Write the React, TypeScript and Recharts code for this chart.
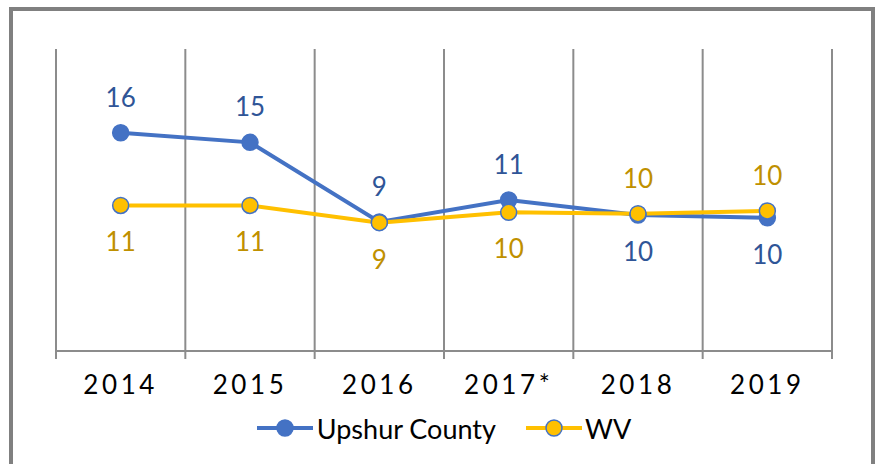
import React from 'react';
import { LineChart, Line, XAxis, YAxis, CartesianGrid, Legend, LabelList } from 'recharts';

const years = ['2014', '2015', '2016', '2017*', '2018', '2019'];
const upshur = [15.9, 15.2, 9.4, 11.0, 9.9, 9.7];
const wv = [10.6, 10.6, 9.35, 10.1, 10.0, 10.2];
const seriesNames = ['Upshur County', 'WV'];

const BLUE = '#4472C4';
const GOLD = '#FFC000';
const GRID = '#8C8C8C';
const FONT = 'Lato, "Noto Sans", sans-serif';
const WEIGHT = 400;

const data = years.map((year, i) => ({ year, x: i + 0.5, upshur: upshur[i], wv: wv[i] }));
const boundaryTicks = [...years.map((_, i) => i), years.length];

const makeLabel = (own: number[], other: number[], color: string) => (props: any) => {
  const vb = props.viewBox || {};
  const x = props.x ?? vb.x;
  const y = props.y ?? vb.y;
  const index = props.index;
  const value = props.value;
  if (x == null || y == null) return null;
  const above = own[index] > other[index];
  return (
    <text
      x={x}
      y={above ? y - 36 : y + 36}
      textAnchor="middle"
      dominantBaseline="central"
      fill={color}
      fontSize={26}
      fontWeight={WEIGHT}
      fontFamily={FONT}
    >
      {Math.round(Number(value))}
    </text>
  );
};

const LegendIcon = ({ fill, line }: { fill: string; line: string }) => (
  <svg width={56} height={20} style={{ display: 'block' }}>
    <line x1={0} y1={10} x2={56} y2={10} stroke={line} strokeWidth={4} />
    <circle cx={28} cy={10} r={8} fill={fill} stroke={BLUE} strokeWidth={1.5} />
  </svg>
);

const LegendContent = () => (
  <div
    style={{
      display: 'flex',
      justifyContent: 'center',
      alignItems: 'center',
      height: 38,
      fontFamily: FONT,
      fontSize: 27,
      fontWeight: WEIGHT,
      color: '#000',
    }}
  >
    <div style={{ display: 'flex', alignItems: 'center', marginRight: 30 }}>
      <LegendIcon fill={BLUE} line={BLUE} />
      <span style={{ marginLeft: 4 }}>{seriesNames[0]}</span>
    </div>
    <div style={{ display: 'flex', alignItems: 'center' }}>
      <LegendIcon fill={GOLD} line={GOLD} />
      <span style={{ marginLeft: 3 }}>{seriesNames[1]}</span>
    </div>
  </div>
);

export default function App() {
  return (
    <div
      style={{
        position: 'absolute',
        left: 0,
        top: 0,
        width: 877,
        height: 464,
        overflow: 'hidden',
        background: '#fff',
        fontFamily: FONT,
      }}
    >
      <div
        style={{
          position: 'absolute',
          left: 9,
          top: 7,
          width: 866,
          height: 480,
          border: '4px solid #808080',
          boxSizing: 'border-box',
        }}
      />
      <div style={{ position: 'absolute', left: 0, top: 0 }}>
        <LineChart
          width={877}
          height={464}
          data={data}
          margin={{ top: 49, left: 56, right: 45, bottom: 17 }}
        >
          <CartesianGrid horizontal={false} vertical stroke={GRID} strokeWidth={2} />
          <XAxis
            type="number"
            dataKey="x"
            domain={[0, years.length]}
            ticks={boundaryTicks}
            interval={0}
            height={8}
            tickSize={8}
            tickFormatter={() => ''}
            axisLine={{ stroke: GRID, strokeWidth: 2 }}
            tickLine={{ stroke: GRID, strokeWidth: 2 }}
          />
          <XAxis
            xAxisId="lab"
            type="category"
            dataKey="year"
            scale="band"
            height={50}
            axisLine={false}
            tickLine={false}
            tickSize={0}
            tickMargin={17}
            interval={0}
            tick={{ fill: '#000', fontSize: 26, fontWeight: WEIGHT, fontFamily: FONT, letterSpacing: 3.6 }}
          />
          <YAxis hide domain={[0, 22]} />
          <Legend verticalAlign="bottom" height={38} wrapperStyle={{ left: 56, width: 776 }} content={<LegendContent />} />
          <Line
            dataKey="upshur"
            name={seriesNames[0]}
            stroke={BLUE}
            strokeWidth={4}
            dot={{ r: 8, fill: BLUE, stroke: BLUE, strokeWidth: 1.5 }}
            activeDot={false}
            isAnimationActive={false}
          >
            <LabelList dataKey="upshur" content={makeLabel(upshur, wv, '#2F5597')} />
          </Line>
          <Line
            dataKey="wv"
            name={seriesNames[1]}
            stroke={GOLD}
            strokeWidth={4}
            dot={{ r: 8, fill: GOLD, stroke: BLUE, strokeWidth: 1.5 }}
            activeDot={false}
            isAnimationActive={false}
          >
            <LabelList dataKey="wv" content={makeLabel(wv, upshur, '#BF9000')} />
          </Line>
        </LineChart>
      </div>
    </div>
  );
}
